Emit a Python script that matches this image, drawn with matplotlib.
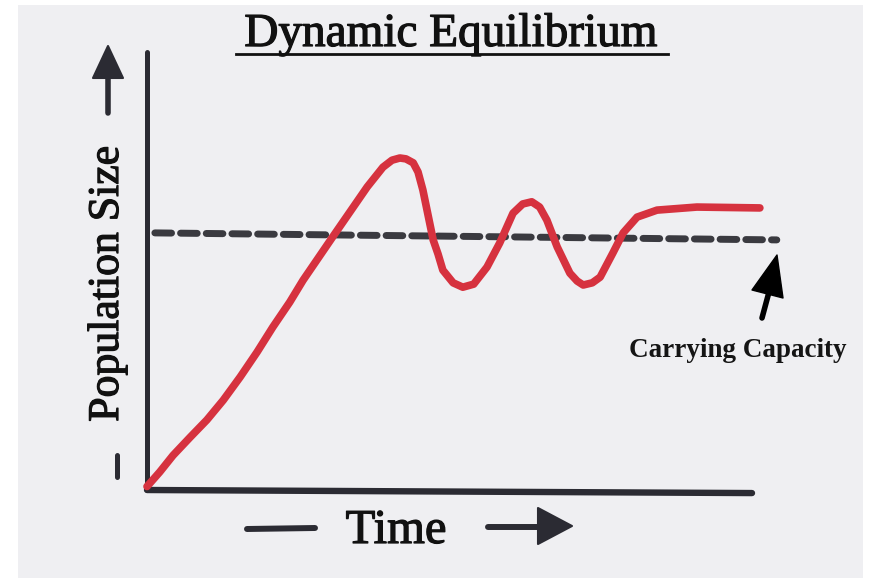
import matplotlib
matplotlib.use('Agg')
import matplotlib.pyplot as plt
import matplotlib.patheffects as pe
from matplotlib.patches import Polygon, Rectangle

plt.rcParams['font.family'] = ['Liberation Serif', 'DejaVu Serif']

# 种群数量随时间变化 (手绘曲线读数)
time = [0, 2.1, 4.3, 7.1, 9.9, 12.6, 15.4, 18.2, 20.8, 23.6, 25.8, 30.7, 36.4, 39.0, 40.5,
        41.8, 42.8, 44.0, 44.8, 45.6, 47.3, 48.1, 48.9, 50.6, 52.2, 54.0, 56.2, 58.3, 60.5,
        62.1, 63.6, 64.9, 66.1, 67.8, 69.9, 71.1, 72.1, 73.6, 74.9, 77.0, 78.7, 81.0, 84.3,
        90.9, 101.3]
population = [0.8, 4.1, 7.9, 12.0, 16.0, 20.5, 25.8, 31.5, 37.2, 42.9, 47.9, 57.8, 69.2, 73.7, 75.3,
              75.8, 75.6, 74.7, 72.6, 68.5, 57.1, 53.9, 50.2, 47.3, 46.3, 47.0, 50.9, 56.4, 63.2,
              65.3, 65.8, 64.6, 61.6, 55.5, 49.5, 47.7, 46.8, 47.3, 48.6, 54.1, 58.7, 62.3, 63.9,
              64.6, 64.4]

# 环境容纳量 (虚线两端)
cap_time = [1.3, 104.1]
cap_value = [58.7, 57.1]

# 坐标轴线
yaxis_time = [0, 0]
yaxis_value = [0, 100]
xaxis_time = [0, 100]
xaxis_value = [0, -0.7]

title = 'Dynamic Equilibrium'
ylabel = 'Population Size'
xlabel = 'Time'
cap_label = 'Carrying Capacity'

W, H = 869, 578
ink = '#2b2b33'
red = '#d6323f'
txt = '#111111'
heavy = [pe.withStroke(linewidth=0.9, foreground=txt)]

fig = plt.figure(figsize=(W / 100, H / 100), dpi=100)
fig.patch.set_facecolor('white')

#装饰层，像素坐标
deco = fig.add_axes([0, 0, 1, 1])
deco.set_xlim(0, W)
deco.set_ylim(H, 0)
deco.axis('off')
deco.add_patch(Rectangle((18, 5), 845, 573, facecolor='#efeff2', edgecolor='none', zorder=0))

#数据层
ax = fig.add_axes([147 / W, (H - 490) / H, (752 - 147) / W, (490 - 52) / H])
ax.set_xlim(0, 100)
ax.set_ylim(0, 100)
ax.axis('off')
ax.patch.set_alpha(0)

ax.plot(yaxis_time, yaxis_value, color=ink, lw=3.6, solid_capstyle='round', clip_on=False)
ax.plot(xaxis_time, xaxis_value, color=ink, lw=4.6, solid_capstyle='round', clip_on=False)
ax.plot(cap_time, cap_value, color='#3a3a40', lw=5, linestyle=(0, (2.4, 1.3)),
        dash_capstyle='round', clip_on=False, zorder=2)
ax.plot(time, population, color=red, lw=5.5, solid_capstyle='round',
        solid_joinstyle='round', clip_on=False, zorder=3)

#标题
deco.text(451, 46, title, fontsize=34, ha='center', va='baseline', color=txt, path_effects=heavy)
deco.plot([236, 668], [53.5, 53.5], color=txt, lw=2)

#纵轴标签和箭头
deco.text(107, 284, ylabel, fontsize=31.5, rotation=90, ha='center', va='center', color=txt,
          path_effects=heavy)
deco.plot([108, 108], [113, 72], color=ink, lw=4, solid_capstyle='round')
deco.add_patch(Polygon([[108, 46], [93, 78], [123, 78]], closed=True, color=ink, lw=1.5, joinstyle='round'))
deco.plot([117, 117], [455, 477], color=ink, lw=3.6, solid_capstyle='round')

#横轴标签和箭头
deco.text(396, 543, xlabel, fontsize=35, ha='center', va='baseline', color=txt, path_effects=heavy)
deco.plot([247, 315], [529, 528], color=ink, lw=4.3, solid_capstyle='round')
deco.plot([488, 545], [527, 527], color=ink, lw=4.3, solid_capstyle='round')
deco.add_patch(Polygon([[572, 526], [538, 508], [538, 544]], closed=True, color=ink, lw=1.5, joinstyle='round'))

#环境容纳量标注
deco.text(738, 357, cap_label, fontsize=19.5, fontweight='bold', ha='center', va='baseline', color='#151515')
deco.plot([762, 769], [318, 292], color='black', lw=4, solid_capstyle='round')
deco.add_patch(Polygon([[777, 255], [783, 298], [752, 290]], closed=True, color='black', lw=1, joinstyle='round'))

fig.savefig('out.png', dpi=100, facecolor=fig.get_facecolor())
